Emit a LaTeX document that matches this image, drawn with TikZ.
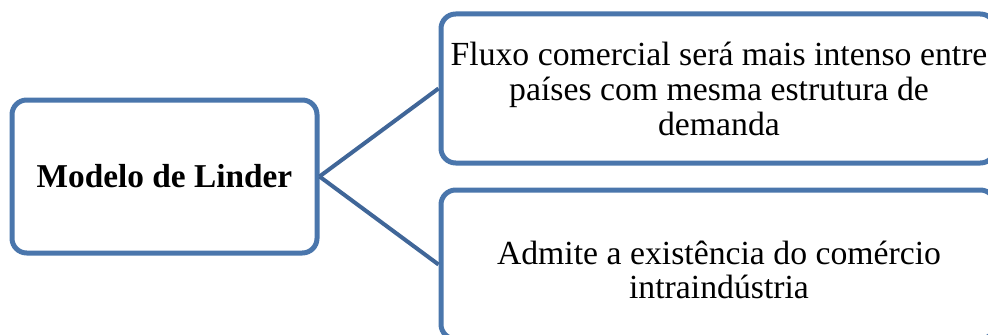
\documentclass[tikz,border=0pt]{standalone}
\usepackage{fontspec}
\setmainfont{Liberation Serif}
\usetikzlibrary{positioning}

\definecolor{boxBlue}{RGB}{74,118,172}
\definecolor{lineBlue}{RGB}{64,102,152}

\begin{document}
\begin{tikzpicture}[x = 0.75pt, y = -0.75pt,
        modelBox/.style = {draw = boxBlue, line width = 3.75pt, rounded corners = 11pt, fill = white, inner sep = 0pt},
        ideaText/.style = {align = center, inner sep = 0pt, font = \fontsize{25.3}{26}\selectfont},
        branch/.style = {draw = lineBlue, line width = 3pt}]

        \useasboundingbox (0, 0) rectangle (988, 335);

        \def\boxW{415.5pt}
        \def\boxH{111.75pt}

        % left box
        \node[modelBox, minimum width = 228.75pt, minimum height = 114.75pt, font = \fontsize{25}{28}\selectfont\bfseries] (linder) at (164.5, 176.5) {Modelo de Linder};

        % right boxes
        \node[modelBox, minimum width = \boxW, minimum height = \boxH] (fluxo) at (718, 88.5) {};
        \node[modelBox, minimum width = \boxW, minimum height = \boxH] (admite) at (718, 264.5) {};

        \node[ideaText] (fluxoText) at (719, 89) {Fluxo comercial será mais intenso entre\\países com mesma estrutura de\\demanda};
        \node[ideaText] (admiteText) at (719, 270) {Admite a existência do comércio\\intraindústria};

        % branches
        \draw[branch] (linder.east) to (fluxo.west);
        \draw[branch] (linder.east) to (admite.west);

    \end{tikzpicture}
\end{document}
